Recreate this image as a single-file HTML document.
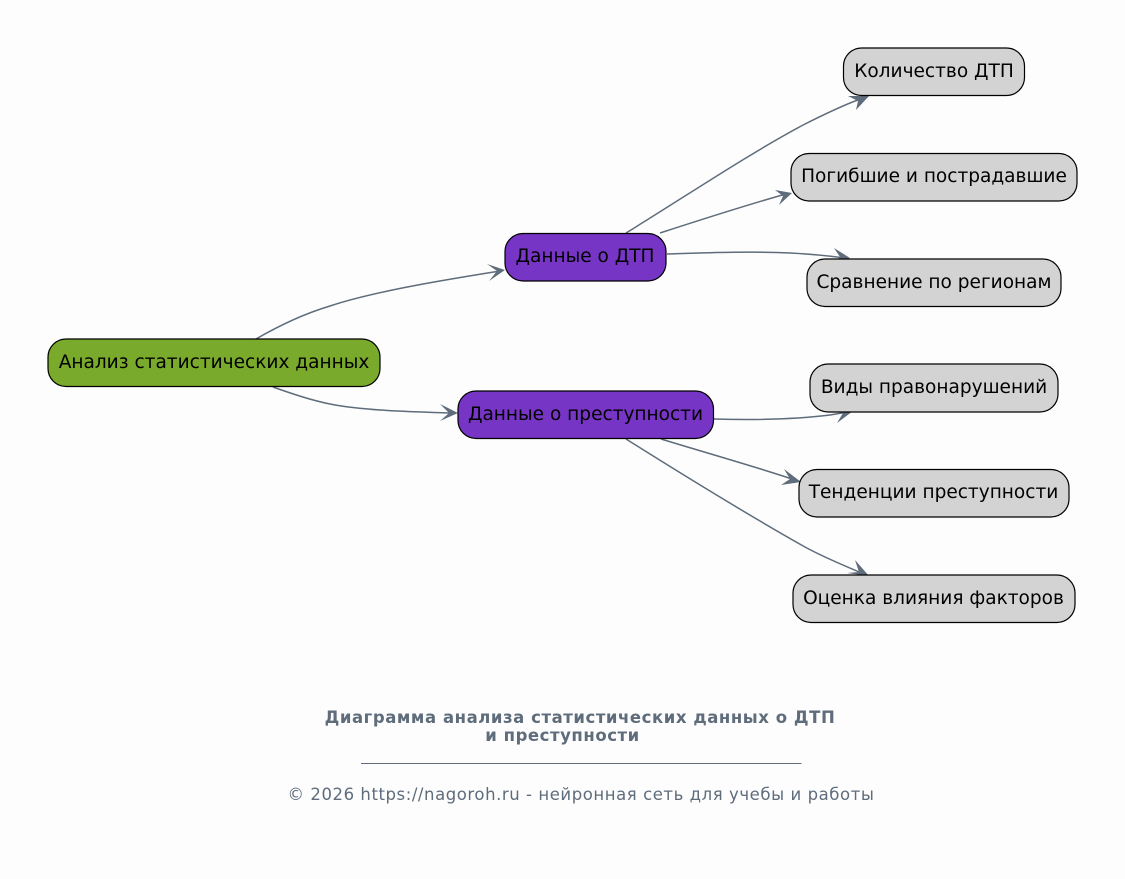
<!DOCTYPE html>
<html>
<head>
<meta charset="utf-8">
<style>
html,body{margin:0;padding:0;background:#fdfdfd;width:1125px;height:879px;overflow:hidden}
svg{display:block}
.n{stroke:#000;stroke-width:1.2}
.t{font-family:"DejaVu Sans",sans-serif;font-size:18.55px;fill:#000;text-anchor:middle}
.e{fill:none;stroke:#5f6c7b;stroke-width:1.5}
.a{fill:#5f6c7b;stroke:none}
</style>
</head>
<body>
<svg width="1125" height="879" viewBox="0 0 1125 879" xmlns="http://www.w3.org/2000/svg">
<rect width="1125" height="879" fill="#fdfdfd"/>

<path class="e" d="M256,339 C275,328 300,315 330,306 C375,291 450,279 500,271"/>
<polygon class="a" points="505,270 487,264 497,271 489,281"/>
<path class="e" d="M273,387 C290,393 310,400 330,404 C365,411 420,412 452,413"/>
<polygon class="a" points="458,413 440,404 449,413 440,421"/>

<path class="e" d="M626,233 C680,200 750,153 805,124 C825,114 850,102 864,98"/>
<polygon class="a" points="869,96 848,96 858,101 856,110"/>
<path class="e" d="M660,233 C700,220 750,204 786,194"/>
<polygon class="a" points="792,193 775,190 783,196 779,205"/>
<path class="e" d="M667,254 C700,253 750,251 790,253 C810,254 830,256 845,258"/>
<polygon class="a" points="850,258 834,248 840,257 832,264"/>

<path class="e" d="M714,419 C750,420 790,420 830,415 L848,412"/>
<polygon class="a" points="853,411 834,407 843,413 837,423"/>
<path class="e" d="M661,439 C700,451 760,468 795,480"/>
<polygon class="a" points="801,482 784,469 790,479 781,485"/>
<path class="e" d="M626,439 C680,473 750,516 805,547 C825,558 850,568 864,574"/>
<polygon class="a" points="869,576 855,560 859,572 847,573"/>

<rect class="n" x="48" y="339" width="332" height="47.5" rx="18" ry="18" fill="#7aaa2b"/>
<text class="t" x="214" y="368">Анализ статистических данных</text>

<rect class="n" x="505" y="233.5" width="161" height="47.5" rx="18" ry="18" fill="#7635c4"/>
<text class="t" x="585" y="262">Данные о ДТП</text>
<rect class="n" x="458" y="391" width="255.500" height="47.5" rx="18" ry="18" fill="#7635c4"/>
<text class="t" x="585.500" y="420">Данные о преступности</text>

<rect class="n" x="843.500" y="48" width="181" height="47.500" rx="18" ry="18" fill="#d3d3d3"/>
<text class="t" x="934" y="77">Количество ДТП</text>
<rect class="n" x="791" y="153.500" width="286" height="47.500" rx="18" ry="18" fill="#d3d3d3"/>
<text class="t" x="934" y="182">Погибшие и пострадавшие</text>
<rect class="n" x="807" y="259" width="254" height="47.500" rx="18" ry="18" fill="#d3d3d3"/>
<text class="t" x="934" y="288">Сравнение по регионам</text>
<rect class="n" x="810" y="364" width="248" height="48" rx="18" ry="18" fill="#d3d3d3"/>
<text class="t" x="934" y="393">Виды правонарушений</text>
<rect class="n" x="799" y="469.500" width="270" height="47.500" rx="18" ry="18" fill="#d3d3d3"/>
<text class="t" x="933.500" y="498">Тенденции преступности</text>
<rect class="n" x="793" y="575" width="282" height="47.500" rx="18" ry="18" fill="#d3d3d3"/>
<text class="t" x="933.500" y="604">Оценка влияния факторов</text>

<g font-family="'DejaVu Sans',sans-serif" fill="#5f6c7b" text-anchor="middle">
<text x="580" y="723" font-size="16.5" font-weight="bold" letter-spacing=".55">Диаграмма анализа статистических данных о ДТП</text>
<text x="562.500" y="741" font-size="16.5" font-weight="bold" letter-spacing=".55">и преступности</text>
<text x="581" y="800" font-size="16.5" letter-spacing=".56">© 2026 https://nagoroh.ru - нейронная сеть для учебы и работы</text>
</g>
<line x1="361" y1="763.5" x2="801.500" y2="763.5" stroke="#5f6c7b" stroke-width="1"/>
</svg>
</body>
</html>
